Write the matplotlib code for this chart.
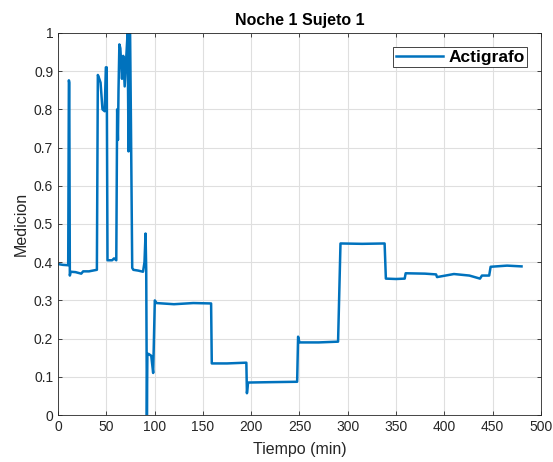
import matplotlib.pyplot as plt
import numpy as np

plt.rcParams['font.family'] = ['Liberation Sans', 'DejaVu Sans']

# breakpoints (time in min, value)
tiempo = [0, 5, 10.5, 11.2, 11.6, 12.2, 13, 18, 24, 26, 32, 36, 40.2,
          41.2, 42, 44, 46, 48.3, 49.5, 50.4, 51.2, 52, 56, 58, 60.3,
          61.2, 62, 62.6, 63.5, 64.5, 66.2, 67.5, 69, 70.5, 72, 73, 73.8, 74.6, 75.5,
          76.8, 78, 83, 88, 89.5, 90.6, 91.3, 92, 92.5, 93.7, 96.5, 98.5,
          100.2, 102, 120, 140, 158.5, 159.2, 175, 195, 195.6, 196.8, 220,
          247.6, 248.6, 250, 270, 290, 292.5, 315, 338.2, 339.5, 350,
          359, 360, 380, 391.5, 392.5, 410, 426, 437, 439, 446.5, 448,
          465, 480]
medicion = [0.395, 0.393, 0.392, 0.876, 0.87, 0.365, 0.375, 0.374, 0.37, 0.376, 0.376, 0.378, 0.38,
            0.89, 0.885, 0.87, 0.8, 0.795, 0.91, 0.91, 0.405, 0.405, 0.405, 0.41, 0.405,
            0.80, 0.72, 0.85, 0.97, 0.96, 0.88, 0.94, 0.86, 0.93, 1.0, 0.69, 1.0, 1.0, 0.76,
            0.385, 0.38, 0.378, 0.375, 0.4, 0.475, 0.38, 0.0, 0.16, 0.16, 0.155, 0.11,
            0.30, 0.293, 0.29, 0.293, 0.292, 0.135, 0.135, 0.137, 0.057, 0.085, 0.086,
            0.087, 0.205, 0.19, 0.19, 0.192, 0.449, 0.448, 0.449, 0.357, 0.356,
            0.357, 0.371, 0.37, 0.368, 0.361, 0.369, 0.365, 0.357, 0.365, 0.365, 0.388,
            0.391, 0.389]

fig = plt.figure(figsize=(5.53, 4.62), dpi=100)
ax = fig.add_axes([0.105, 0.1017, 0.873, 0.827])

ax.plot(tiempo, medicion, color='#0072BD', lw=1.8, label='Actigrafo')

ax.set_xlim(0, 500)
ax.set_ylim(0, 1)
ax.set_xticks(np.arange(0, 501, 50))
ax.set_yticks(np.arange(0, 1.01, 0.1))
ax.set_yticklabels(['0', '0.1', '0.2', '0.3', '0.4', '0.5', '0.6', '0.7', '0.8', '0.9', '1'])
ax.grid(True, color='#dfdfdf', lw=0.8)
ax.set_axisbelow(True)
ax.tick_params(direction='in', length=3, top=True, right=True, labelsize=10,
               colors='#262626', width=0.6)
for s in ax.spines.values():
    s.set_color('#262626')
    s.set_linewidth(0.6)

ax.set_title('Noche 1 Sujeto 1', fontsize=11.5, fontweight='bold', color='black')
ax.set_xlabel('Tiempo (min)', fontsize=11.5, color='#262626', labelpad=6)
ax.set_ylabel('Medicion', fontsize=11.5, color='#262626')

leg = ax.legend(loc='upper right', prop={'weight': 'bold', 'size': 12.5},
                fancybox=False, framealpha=1, edgecolor='#262626',
                borderpad=0.15, handlelength=2.7, handletextpad=0.3,
                borderaxespad=0.8)
leg.get_frame().set_linewidth(0.6)

plt.savefig('out.png', dpi=100)
